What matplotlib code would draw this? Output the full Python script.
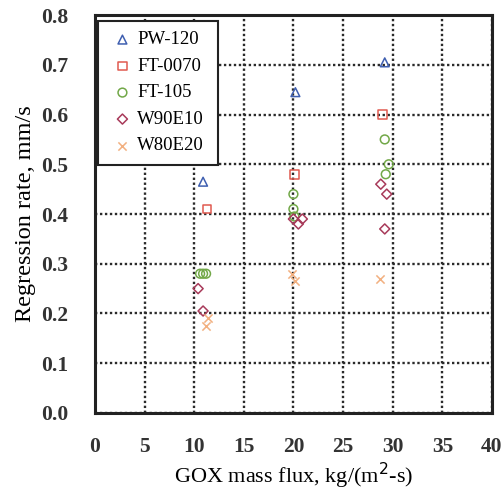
import matplotlib
matplotlib.use("Agg")
import matplotlib.pyplot as plt

plt.rcParams['font.family'] = ['Liberation Serif', 'DejaVu Serif']

# regression rate vs GOX mass flux for each fuel
pw120_x = [10.9, 20.2, 29.2]
pw120_y = [0.465, 0.645, 0.705]

ft0070_x = [11.3, 20.1, 29.0]
ft0070_y = [0.41, 0.48, 0.60]

ft105_x = [10.6, 10.9, 11.2, 20.0, 20.0, 20.1, 29.2, 29.6, 29.3]
ft105_y = [0.28, 0.28, 0.28, 0.44, 0.41, 0.395, 0.55, 0.50, 0.48]

w90e10_x = [10.4, 10.9, 20.0, 20.9, 20.5, 28.8, 29.4, 29.2]
w90e10_y = [0.25, 0.205, 0.39, 0.39, 0.38, 0.46, 0.44, 0.37]

w80e20_x = [11.4, 11.2, 19.9, 20.2, 28.7]
w80e20_y = [0.19, 0.175, 0.28, 0.265, 0.27]

series = [
    ("PW-120", pw120_x, pw120_y, "^", "#3f5fb0"),
    ("FT-0070", ft0070_x, ft0070_y, "s", "#e05a50"),
    ("FT-105", ft105_x, ft105_y, "o", "#72a848"),
    ("W90E10", w90e10_x, w90e10_y, "D", "#a83a5a"),
    ("W80E20", w80e20_x, w80e20_y, "x", "#f2b080"),
]

fig = plt.figure(figsize=(5.02, 5.03), dpi=100)
ax = fig.add_axes([0.189, 0.179, 0.791, 0.791])

for name, xs, ys, mk, col in series:
    if mk == "x":
        ax.scatter(xs, ys, marker=mk, s=35, color=col, linewidths=1.1, label=name, zorder=3)
    else:
        ms = 26 if mk == "D" else 40
        ax.scatter(xs, ys, marker=mk, s=ms, facecolors="none", edgecolors=col,
                   linewidths=1.1, label=name, zorder=3)

ax.set_xlim(0, 40)
ax.set_ylim(0, 0.8)
ax.set_xticks(range(0, 41, 5))
ax.set_yticks([i / 10 for i in range(9)])
ax.set_yticklabels([f"{i / 10:.1f}" for i in range(9)])
ax.tick_params(axis="x", length=0, labelsize=15.5, pad=17)
ax.tick_params(axis="y", length=0, labelsize=15.5, pad=19)
for lab in ax.get_xticklabels() + ax.get_yticklabels():
    lab.set_fontweight("bold")
    lab.set_color("#333333")

ax.grid(True, linestyle=(0, (1.0, 1.1)), color="#2a2a2a", linewidth=1.7)
for sp in ax.spines.values():
    sp.set_linewidth(2.2)
    sp.set_color("#222222")

ax.set_xlabel("GOX mass flux, kg/(m$^2$-s)", fontsize=16, labelpad=3)
ax.set_ylabel("Regression rate, mm/s", fontsize=17.5, labelpad=4)

# legend box stretched to a fixed width, entries left-aligned inside it
leg = ax.legend(loc="upper left", fontsize=13.5, frameon=True, fancybox=False,
                handletextpad=0.05, handlelength=1.5, borderpad=0.55,
                labelspacing=0.5, borderaxespad=0.0, mode="expand",
                bbox_to_anchor=(0.008, 0.6, 0.302, 0.385))
leg.get_frame().set_edgecolor("#222222")
leg.get_frame().set_linewidth(1.5)
leg.get_frame().set_alpha(1)

fig.savefig("out.png", dpi=100)
